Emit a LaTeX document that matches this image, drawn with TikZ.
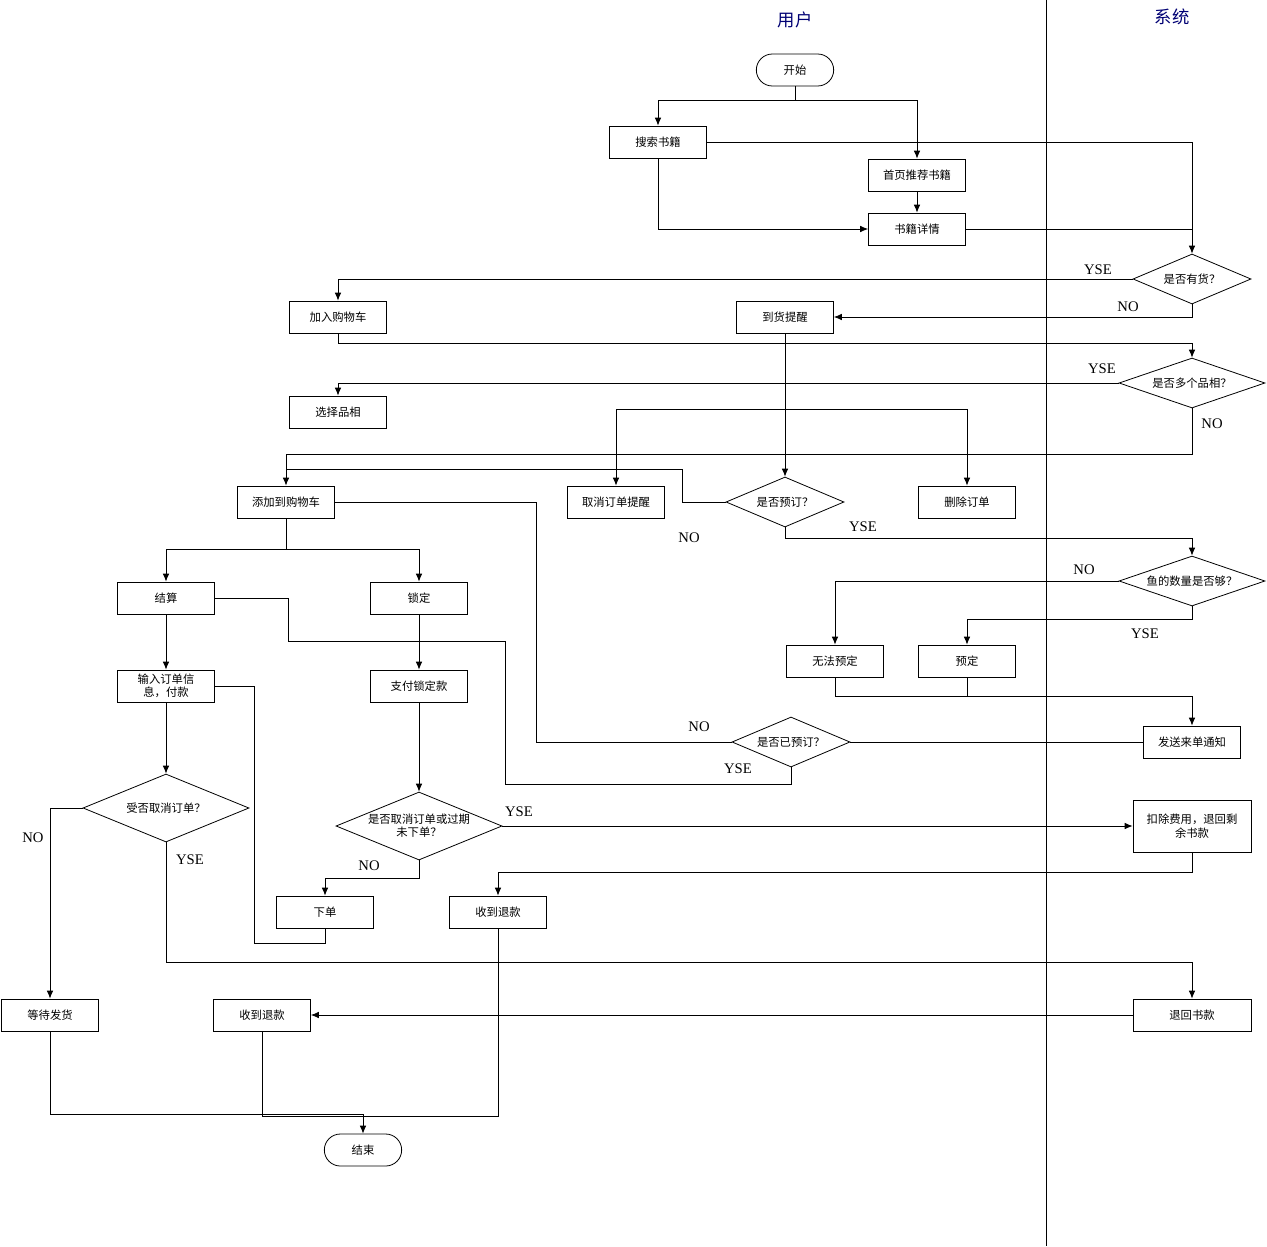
\documentclass[tikz,border=0pt]{standalone}
\usepackage{fontspec}
\setmainfont{Noto Sans CJK SC}
\newfontfamily\lbl{Liberation Serif}
\usetikzlibrary{shapes.geometric,arrows.meta}
\begin{document}
\begin{tikzpicture}[x=0.75pt,y=-0.75pt,
 box/.style={draw,minimum width=72.75pt,minimum height=24pt,inner sep=1pt,font=\fontsize{8.5}{10}\selectfont,align=center},
 wbox/.style={box,minimum width=88.5pt,minimum height=39pt},
 term/.style={draw,rounded corners=12pt,minimum width=58pt,minimum height=24pt,font=\fontsize{8.5}{10}\selectfont},
 dia/.style={draw,diamond,inner sep=0pt},
 dt/.style={font=\fontsize{8.5}{10}\selectfont,align=center},
 lb/.style={font=\lbl\fontsize{11}{12}\selectfont},
 ar/.style={-{Latex[length=6pt,width=5pt]}},
 every path/.style={line width=0.6pt}]
\useasboundingbox (0,0) rectangle (1267,1246);
\draw (1046,0) -- (1046,1246);
\node[font=\fontsize{13}{15}\selectfont,text=blue!45!black] (tu) at (795,20) {用户};
\node[font=\fontsize{13}{15}\selectfont,text=blue!45!black] (ts) at (1172,17) {系统};
% nodes
\node[term] (start) at (795,70) {开始};
\node[box] (search) at (658,142) {搜索书籍};
\node[box] (home) at (917,175) {首页推荐书籍};
\node[box] (detail) at (917,229) {书籍详情};
\node[dia,minimum width=88.5pt,minimum height=37.5pt] (d1) at (1192,279) {};
\node[dt] at (d1) {是否有货？};
\node[box] (cart) at (338,317) {加入购物车};
\node[box] (remind) at (785,317) {到货提醒};
\node[dia,minimum width=109.5pt,minimum height=37.5pt] (d2) at (1192,383) {};
\node[dt] at (d2) {是否多个品相？};
\node[box] (sel) at (338,412) {选择品相};
\node[box] (add) at (286,502) {添加到购物车};
\node[box] (cancel) at (616,502) {取消订单提醒};
\node[dia,minimum width=88.5pt,minimum height=37.5pt] (d3) at (785,502) {};
\node[dt] at (d3) {是否预订？};
\node[box] (del) at (967,502) {删除订单};
\node[dia,minimum width=109.5pt,minimum height=37.5pt] (d4) at (1192,581) {};
\node[dt] at (d4) {鱼的数量是否够？};
\node[box] (pay) at (166,598) {结算};
\node[box] (lock) at (419,598) {锁定};
\node[box] (nores) at (835,661) {无法预定};
\node[box] (res) at (967,661) {预定};
\node[box] (input) at (166,686) {输入订单信\\息，付款};
\node[box] (paylock) at (419,686) {支付锁定款};
\node[dia,minimum width=88.5pt,minimum height=37.5pt] (d5) at (791,742) {};
\node[dt] at (d5) {是否已预订？};
\node[box] (notify) at (1192,742) {发送来单通知};
\node[dia,minimum width=124.5pt,minimum height=51pt] (d6) at (166,808) {};
\node[dt] at (d6) {受否取消订单？};
\node[dia,minimum width=124.5pt,minimum height=51pt] (d7) at (419,826) {};
\node[dt] at (d7) {是否取消订单或过期\\未下单？};
\node[wbox] (deduct) at (1192,826) {扣除费用，退回剩\\余书款};
\node[box] (order) at (325,912) {下单};
\node[box] (ref1) at (498,912) {收到退款};
\node[box] (wait) at (50,1015) {等待发货};
\node[box] (ref2) at (262,1015) {收到退款};
\node[box,minimum width=88.5pt] (ret) at (1192,1015) {退回书款};
\node[term] (end) at (363,1150) {结束};
% connectors
\draw[ar] (start.south) -- (795,100) -| (search.north);
\draw[ar] (start.south) -- (795,100) -| (home.north);
\draw[ar] (search.east) -| (d1.north);
\draw[ar] (search.south) |- (detail.west);
\draw[ar] (home) -- (detail);
\draw (detail.east) -- (1192,229);
\draw[ar] (d1.west) -| (cart.north);
\draw[ar] (d1.south) |- (remind.east);
\draw[ar] (cart.south) -- (338,343) -| (d2.north);
\draw[ar] (d2.west) -| (sel.north);
\draw[ar] (d2.south) |- (286,454) -- (add.north);
\draw[ar] (remind) -- (d3.north);
\draw[ar] (785,409) -| (cancel.north);
\draw[ar] (785,409) -| (del.north);
\draw (d3.west) -- (682,502) |- (286,469);
\draw[ar] (d3.south) |- (1192,538) -- (d4.north);
\draw[ar] (d4.west) -| (nores.north);
\draw[ar] (d4.south) |- (967,619) -- (res.north);
\draw[ar] (nores.south) |- (1192,696) -- (notify.north);
\draw (res.south) -- (967,696);
\draw[ar] (add.south) |- (286,549) -| (pay.north);
\draw[ar] (286,549) -| (lock.north);
\draw (add.east) -| (536,742) -- (d5.west);
\draw (pay.east) -| (288,641) -| (505,784) -| (d5.south);
\draw (notify.west) -- (d5.east);
\draw[ar] (pay) -- (input);
\draw[ar] (lock) -- (paylock);
\draw[ar] (paylock) -- (d7.north);
\draw (input.east) -| (254,943) -| (order.south);
\draw[ar] (input) -- (d6.north);
\draw[ar] (d6.west) -| (wait.north);
\draw[ar] (d6.south) |- (1192,962) -- (ret.north);
\draw[ar] (d7.east) -- (deduct.west);
\draw[ar] (d7.south) |- (325,878) -- (order.north);
\draw[ar] (deduct.south) |- (498,872) -- (ref1.north);
\draw[ar] (ret.west) -- (ref2.east);
\draw[ar] (wait.south) |- (363,1114) -- (end.north);
\draw (ref2.south) |- (363,1116);
\draw (ref1.south) |- (363,1116);
% labels
\node[lb] (l1) at (1098,270) {YSE};
\node[lb] (l2) at (1128,307) {NO};
\node[lb] (l3) at (1102,369) {YSE};
\node[lb] (l4) at (1212,424) {NO};
\node[lb] (l5) at (689,538) {NO};
\node[lb] (l6) at (863,527) {YSE};
\node[lb] (l7) at (1084,570) {NO};
\node[lb] (l8) at (1145,634) {YSE};
\node[lb] (l9) at (699,727) {NO};
\node[lb] (l10) at (738,769) {YSE};
\node[lb] (l11) at (519,812) {YSE};
\node[lb] (l12) at (33,838) {NO};
\node[lb] (l13) at (190,860) {YSE};
\node[lb] (l14) at (369,866) {NO};
\end{tikzpicture}
\end{document}
